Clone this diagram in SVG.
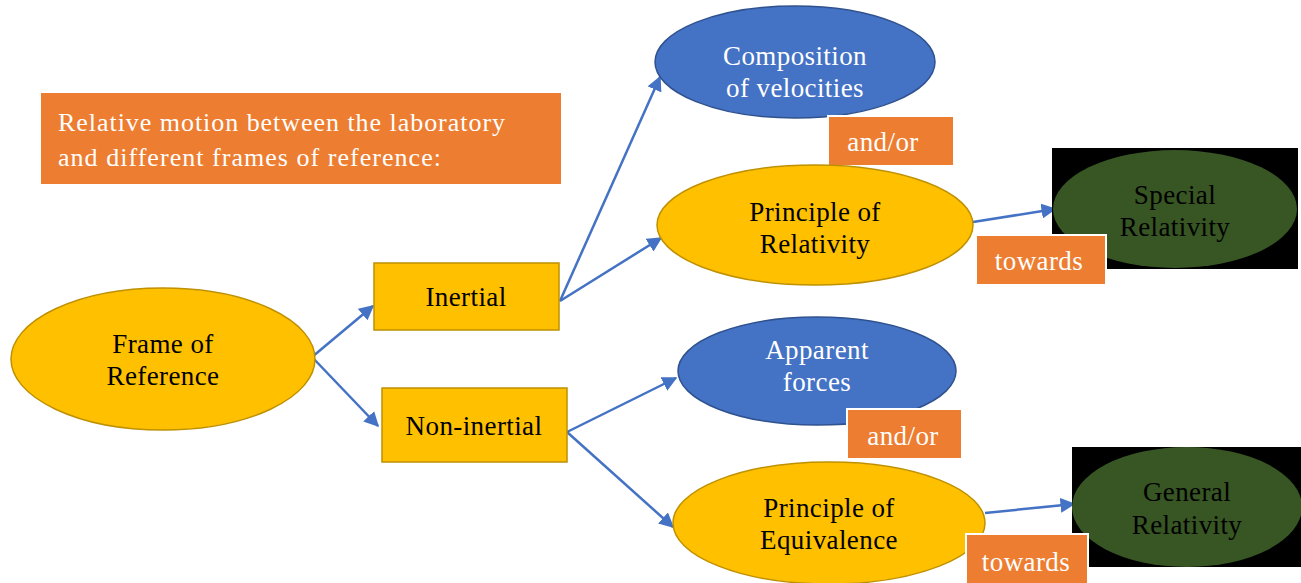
<svg xmlns="http://www.w3.org/2000/svg" width="1301" height="583" viewBox="0 0 1301 583">
<defs>
<marker id="ah" viewBox="0 0 10 10" refX="9" refY="5" markerWidth="6" markerHeight="6" orient="auto" markerUnits="strokeWidth">
<path d="M0,0 L10,5 L0,10 Z" fill="#4472C4"/>
</marker>
<style>
text{font-family:"Liberation Serif","Times New Roman",serif;font-size:27px;letter-spacing:0.4px;text-anchor:middle}
.gold{fill:#FFC000;stroke:#BF9000;stroke-width:1.5}
.blue{fill:#4472C4;stroke:#2F528F;stroke-width:1.5}
.green{fill:#375623}
.orange{fill:#ED7D31;stroke:#FFFFFF;stroke-width:2}
.dark{fill:#000000}
.w{fill:#FFFFFF}
.b{fill:#000000}
.conn line{stroke:#4472C4;stroke-width:2.5;marker-end:url(#ah)}
</style>
</defs>
<rect width="1301" height="583" fill="#FFFFFF"/>
<g id="title">
<rect x="41" y="93" width="520" height="91" fill="#ED7D31"/>
<text class="w" x="58" y="131" textLength="447" style="text-anchor:start;font-size:26px;letter-spacing:0">Relative motion between the laboratory</text>
<text class="w" x="58" y="166" textLength="383" style="text-anchor:start;font-size:26px;letter-spacing:0">and different frames of reference:</text>
</g>
<g class="conn" id="connectors">
<line x1="312" y1="357" x2="373" y2="306"/>
<line x1="312" y1="357" x2="378" y2="426"/>
<line x1="560" y1="301" x2="660" y2="77"/>
<line x1="560" y1="301" x2="661" y2="238"/>
<line x1="567" y1="432" x2="676" y2="378"/>
<line x1="567" y1="432" x2="673" y2="527"/>
<line x1="973" y1="222" x2="1055" y2="209"/>
<line x1="985" y1="513" x2="1074" y2="504"/>
</g>
<g id="frame">
<ellipse class="gold" cx="163" cy="359" rx="152" ry="71"/>
<text class="b" x="163" y="353">Frame of</text>
<text class="b" x="163" y="385">Reference</text>
</g>
<g id="inertial">
<rect class="gold" x="374" y="263" width="185" height="67"/>
<text class="b" x="466" y="306">Inertial</text>
</g>
<g id="noninertial">
<rect class="gold" x="382" y="388" width="185" height="74"/>
<text class="b" x="474" y="435">Non-inertial</text>
</g>
<g id="composition">
<ellipse class="blue" cx="795" cy="62" rx="140" ry="56"/>
<text class="w" x="795" y="65">Composition</text>
<text class="w" x="795" y="97">of velocities</text>
</g>
<g id="andor1">
<rect class="orange" x="828" y="116" width="126" height="50"/>
<text class="w" x="883" y="151">and/or</text>
</g>
<g id="relativity">
<ellipse class="gold" cx="815" cy="225" rx="158" ry="60"/>
<text class="b" x="815" y="221">Principle of</text>
<text class="b" x="815" y="253">Relativity</text>
</g>
<g id="special">
<rect class="dark" x="1052" y="148" width="246" height="121"/>
<ellipse class="green" cx="1175" cy="209" rx="122" ry="59"/>
<text class="b" x="1175" y="204">Special</text>
<text class="b" x="1175" y="236">Relativity</text>
</g>
<g id="towards1">
<rect class="orange" x="976" y="235" width="130" height="50"/>
<text class="w" x="1039" y="270">towards</text>
</g>
<g id="apparent">
<ellipse class="blue" cx="817" cy="371" rx="139" ry="54"/>
<text class="w" x="817" y="359">Apparent</text>
<text class="w" x="817" y="391">forces</text>
</g>
<g id="andor2">
<rect class="orange" x="847" y="409" width="115" height="50"/>
<text class="w" x="903" y="445">and/or</text>
</g>
<g id="equivalence">
<ellipse class="gold" cx="829" cy="523" rx="156" ry="61"/>
<text class="b" x="829" y="517">Principle of</text>
<text class="b" x="829" y="549">Equivalence</text>
</g>
<g id="general">
<rect class="dark" x="1072" y="447" width="229" height="120"/>
<ellipse class="green" cx="1187" cy="507" rx="115" ry="60"/>
<text class="b" x="1187" y="501">General</text>
<text class="b" x="1187" y="534">Relativity</text>
</g>
<g id="towards2">
<rect class="orange" x="966" y="534" width="122" height="52"/>
<text class="w" x="1026" y="571">towards</text>
</g>
</svg>
